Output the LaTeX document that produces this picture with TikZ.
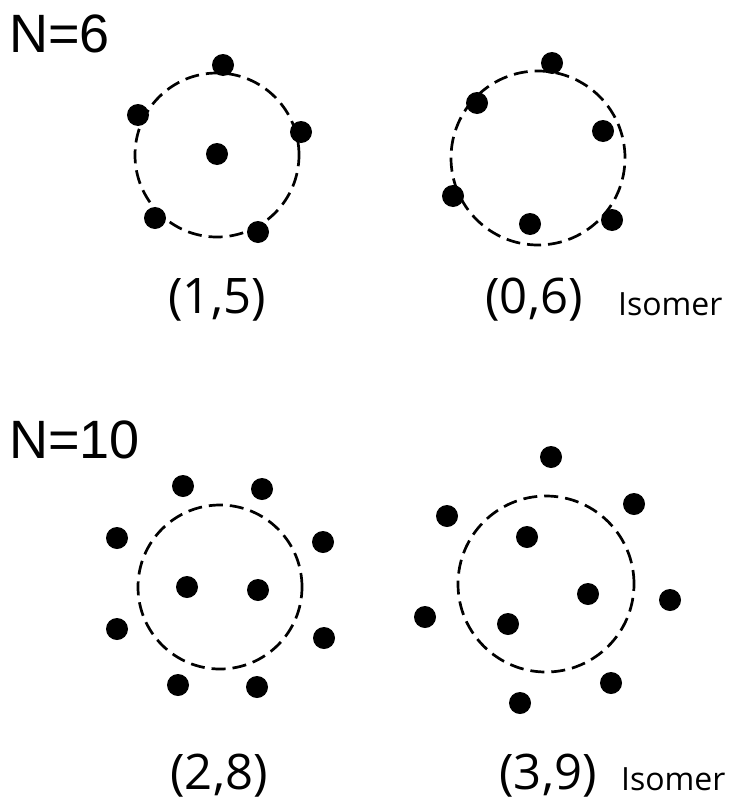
\documentclass[tikz,border=0pt]{standalone}
\usepackage{fontspec}
\setmainfont{Liberation Sans}
\newfontfamily\pairfont{Open Sans}
\begin{document}
\begin{tikzpicture}[
    x=1pt,y=-1pt,
    atom/.style={fill=black},
    shell/.style={draw=black,line width=2.7pt,dash pattern=on 14pt off 7pt},
    count/.style={anchor=base west,inner sep=0pt,font=\fontsize{54}{60}\selectfont},
    pair/.style={anchor=base,inner sep=0pt,font=\pairfont\fontsize{49}{54}\selectfont},
    tag/.style={anchor=base west,inner sep=0pt,font=\pairfont\fontsize{32}{36}\selectfont}
]
    \useasboundingbox (0,0) rectangle (730,811);
    \fill[white] (0,0) rectangle (730,811);
    \node[count] (nsix) at (9,52) {N=6};
    \node[count] (nten) at (9,458) {N=10};
    \draw[shell] (217,155) circle[radius=82pt];
    \foreach \x/\y in {223/65,138/115,301/132,217/154,155/218,258/232}
        \fill[atom] (\x,\y) circle[radius=11pt];
    \node[pair] (onefive) at (217,313) {(1,5)};
    \draw[shell] (538,158) circle[radius=87pt];
    \foreach \x/\y in {552/63,477/103,603/131,453/196,530/224,612/220}
        \fill[atom] (\x,\y) circle[radius=11pt];
    \node[pair] (zerosix) at (534,313) {(0,6)};
    \node[tag] (isoa) at (618,315) {Isomer};
    \draw[shell] (220,587) circle[radius=82pt];
    \foreach \x/\y in {183/486,262/489,117/538,323/542,187/587,258/590,117/629,324/638,178/685,257/687}
        \fill[atom] (\x,\y) circle[radius=11pt];
    \node[pair] (twoeight) at (219,789) {(2,8)};
    \draw[shell] (546,584) circle[radius=88pt];
    \foreach \x/\y in {551/457,447/516,634/504,527/537,588/594,670/600,425/617,508/624,611/683,520/703}
        \fill[atom] (\x,\y) circle[radius=11pt];
    \node[pair] (threenine) at (548,789) {(3,9)};
    \node[tag] (isob) at (621,790) {Isomer};
\end{tikzpicture}
\end{document}
